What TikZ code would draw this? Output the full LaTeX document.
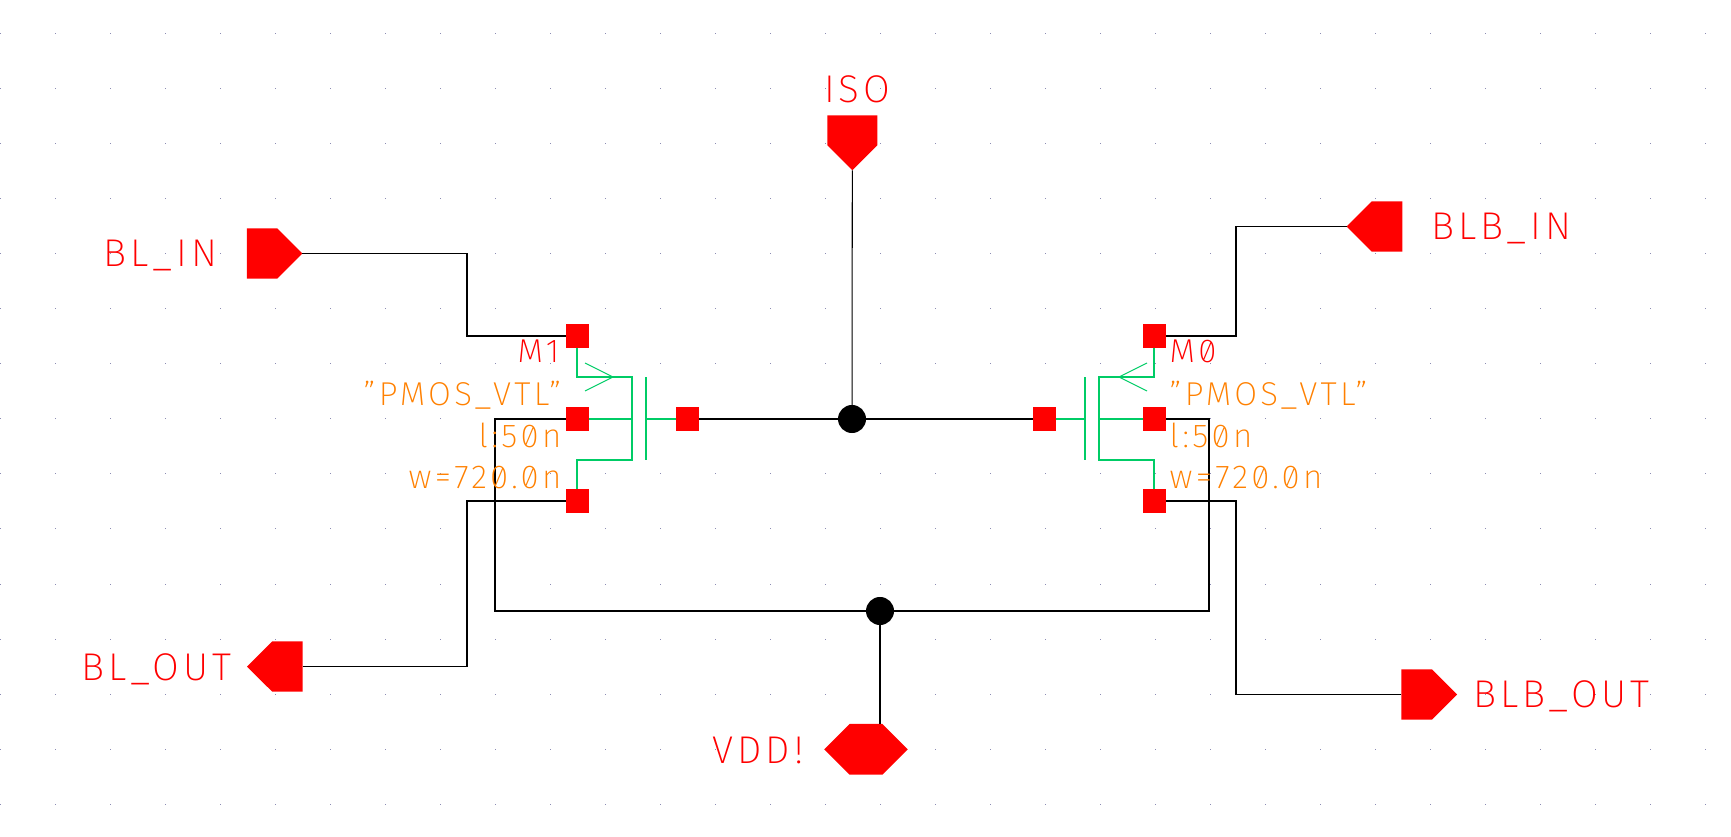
\documentclass[tikz,border=0pt]{standalone}
\usepackage{fontspec}
\setmainfont{Fira Sans ExtraLight}[Numbers=SlashedZero,LetterSpace=10]
\usetikzlibrary{shapes.symbols}
\definecolor{pinred}{RGB}{255,0,0}
\definecolor{devgreen}{RGB}{0,204,102}
\definecolor{paramorange}{RGB}{255,128,0}
\definecolor{griddot}{RGB}{140,140,180}
\tikzset{
  term/.style={draw=none,fill=pinred,minimum size=2.3mm,inner sep=0pt,outer sep=0pt},
  pin/.style={signal,fill=pinred,inner sep=0pt,outer sep=0pt,signal pointer angle=90,minimum width=5.55mm,minimum height=5mm},
  dotnode/.style={circle,fill=black,minimum size=2.8mm,inner sep=0pt,outer sep=0pt},
  wire/.style={draw=black,line width=0.3pt},
  dev/.style={draw=devgreen,line width=0.3pt},
  lbl/.style={text=pinred,font=\fontsize{11}{11}\selectfont,inner sep=0pt},
  par/.style={text=paramorange,font=\fontsize{9.4}{9.4}\selectfont,inner sep=0pt}
}
\begin{document}
\begin{tikzpicture}[x=0.01cm,y=-0.01cm]
  \useasboundingbox (0,0) rectangle (1731,837);
  % grid
  \foreach \i in {0,...,31} \foreach \j in {0,...,14}
    \fill[griddot] ({55*\i},{32.8+55.07*\j}) rectangle ++(1,1);
  % M1 terminals
  \node[term] (M1d) at (577,336) {};
  \node[term] (M1b) at (577,419) {};
  \node[term] (M1s) at (577,501) {};
  \node[term] (M1g) at (687,419) {};
  % M0 terminals
  \node[term] (M0d) at (1154,336) {};
  \node[term] (M0b) at (1154,419) {};
  \node[term] (M0s) at (1154,501) {};
  \node[term] (M0g) at (1044,419) {};
  % pins
  \node[pin,signal to=east,signal from=nowhere,anchor=east] (BLIN) at (302.3,253.5) {};
  \node[pin,signal to=west,signal from=nowhere,anchor=west] (BLOUT) at (247,666.5) {};
  \node[pin,signal to=west,signal from=nowhere,anchor=west] (BLBIN) at (1346.7,226.5) {};
  \node[pin,signal to=east,signal from=nowhere,anchor=east] (BLBOUT) at (1457,694.5) {};
  \node[pin,signal to=south,signal from=nowhere,minimum width=5mm,minimum height=3mm,anchor=south] (ISO) at (852.3,170.3) {};
  \node[pin,signal to=east and west,minimum width=8.35mm,minimum height=5.07mm] (VDD) at (866,749.3) {};
  % junctions
  \node[dotnode] (top) at (852,419) {};
  \node[dotnode] (bot) at (880,611) {};
  % wires
  \draw[wire] (BLIN.east) -| (467,336) -- (M1d);
  \draw[wire] (BLOUT.east) -| (467,501) -- (M1s);
  \draw[wire] (BLBIN.west) -| (1236,336) -- (M0d);
  \draw[wire] (BLBOUT.west) -| (1236,501) -- (M0s);
  \draw[wire] (ISO.south) -- (top);
  \draw[wire] (M1g) -- (top) -- (M0g);
  \draw[wire] (M1b) -| (495,611) -- (bot) -- (1209,611) |- (M0b);
  \draw[wire] (bot) -- (bot |- VDD.north);
  % M1 symbol
  \draw[dev] (M1d) |- (632,377) -- (632,460) -| (M1s);
  \draw[dev] (M1b) -- (632,419);
  \draw[dev] (646,377) -- (646,460);
  \draw[dev] (646,419) -- (M1g);
  \draw[dev] (585,363) -- (613,377) -- (585,391);
  % M0 symbol
  \draw[dev] (M0d) |- (1099,377) -- (1099,460) -| (M0s);
  \draw[dev] (M0b) -- (1099,419);
  \draw[dev] (1085,377) -- (1085,460);
  \draw[dev] (1085,419) -- (M0g);
  \draw[dev] (1147,363) -- (1119,377) -- (1147,391);
  % labels
  \node[lbl,anchor=base east] (BLINt) at (218,267) {BL\_IN};
  \node[lbl,anchor=base east] (BLOUTt) at (232,680) {BL\_OUT};
  \node[lbl,anchor=base west] (BLBINt) at (1431,240) {BLB\_IN};
  \node[lbl,anchor=base west] (BLBOUTt) at (1473,707) {BLB\_OUT};
  \node[lbl,anchor=base] (ISOt) at (857,103) {ISO};
  \node[lbl,anchor=base east] (VDDt) at (804,763) {VDD!};
  \node[par,text=pinred,anchor=base east] (M1t) at (560,363) {M1};
  \node[par,anchor=base east] (M1m) at (562,405) {"PMOS\_VTL"};
  \node[par,anchor=base east] (M1l) at (562,447) {l:50n};
  \node[par,anchor=base east] (M1w) at (562,488) {w=720.0n};
  \node[par,text=pinred,anchor=base west] (M0t) at (1169,363) {M0};
  \node[par,anchor=base west] (M0m) at (1169,405) {"PMOS\_VTL"};
  \node[par,anchor=base west] (M0l) at (1169,447) {l:50n};
  \node[par,anchor=base west] (M0w) at (1169,488) {w=720.0n};
\end{tikzpicture}
\end{document}
